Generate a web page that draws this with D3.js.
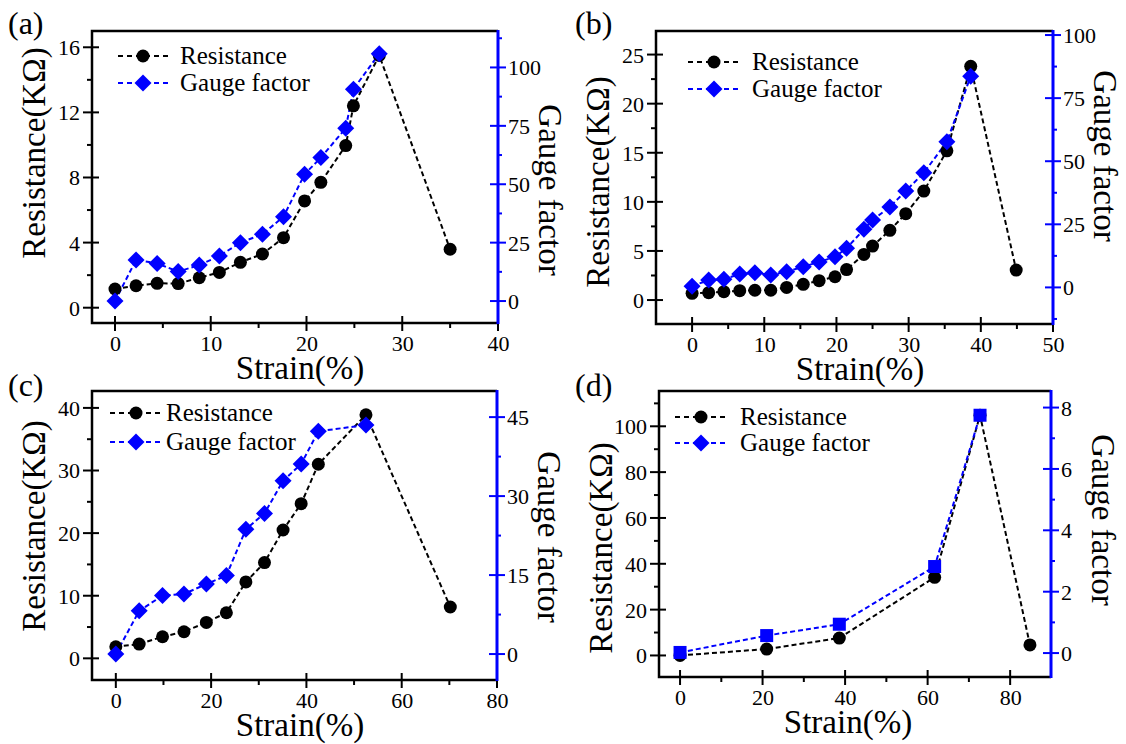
<!DOCTYPE html>
<html>
<head>
<meta charset="utf-8">
<script src="https://cdn.jsdelivr.net/npm/d3@7"></script>
<style>
  html, body { margin: 0; padding: 0; background: #fff; }
  svg { display: block; }
  svg text { font-family: "Liberation Serif", "Times New Roman", serif; fill: #000; }
</style>
</head>
<body>
<svg id="chart" width="1126" height="744"></svg>
<script>
// ---------- DATA ----------
// Panel (a)
const aStrain = [0, 2.2, 4.4, 6.6, 8.8, 10.9, 13.1, 15.4, 17.6, 19.8, 21.5, 24.1, 24.9, 27.6, 35];
const aRes    = [1.15, 1.35, 1.5, 1.48, 1.84, 2.17, 2.79, 3.3, 4.3, 6.56, 7.7, 9.96, 12.4, 15.5, 3.59];
const aGF     = [0, 17.6, 16.1, 12.6, 15.4, 19.3, 25, 28.6, 36.1, 54.3, 61.4, 74, 90.7, 105.9];
// Panel (b)
const bStrain = [0, 2.3, 4.4, 6.6, 8.7, 10.9, 13.1, 15.4, 17.6, 19.8, 21.4, 23.8, 25, 27.4, 29.6, 32.1, 35.3, 38.6, 44.9];
const bRes    = [0.68, 0.75, 0.85, 0.95, 1.0, 1.0, 1.29, 1.6, 1.97, 2.37, 3.1, 4.65, 5.5, 7.1, 8.8, 11.1, 15.2, 23.8, 3.05];
const bGF     = [0.5, 2.9, 3.2, 5.3, 5.8, 4.9, 6.2, 8.2, 10.1, 12.1, 15.5, 23.0, 26.7, 31.9, 38.2, 45.4, 57.7, 83.7];
// Panel (c)
const cStrain = [0, 4.9, 9.8, 14.3, 19.0, 23.2, 27.3, 31.2, 35.1, 38.9, 42.5, 52.5, 70.2];
const cRes    = [1.85, 2.28, 3.45, 4.25, 5.74, 7.28, 12.2, 15.3, 20.5, 24.7, 31.0, 38.9, 8.2];
const cGF     = [0, 8.2, 11.1, 11.4, 13.3, 14.9, 23.7, 26.7, 32.9, 36.1, 42.3, 43.5];
// Panel (d)
const dStrain = [0, 21, 38.6, 61.7, 72.7, 84.8];
const dRes    = [0, 2.8, 7.6, 34.1, 104.8, 4.6];
const dGF     = [0.02, 0.57, 0.94, 2.82, 7.75];

// tick labels
const aXTicks = [0, 10, 20, 30, 40], aLTicks = [0, 4, 8, 12, 16], aRTicks = [0, 25, 50, 75, 100];
const bXTicks = [0, 10, 20, 30, 40, 50], bLTicks = [0, 5, 10, 15, 20, 25], bRTicks = [0, 25, 50, 75, 100];
const cXTicks = [0, 20, 40, 60, 80], cLTicks = [0, 10, 20, 30, 40], cRTicks = [0, 15, 30, 45];
const dXTicks = [0, 20, 40, 60, 80], dLTicks = [0, 20, 40, 60, 80, 100], dRTicks = [0, 2, 4, 6, 8];

const seriesNames = ["Resistance", "Gauge factor"];
const xTitle = "Strain(%)", lTitle = "Resistance(KΩ)", rTitle = "Gauge factor";

// ---------- LAYOUT ----------
const panels = [
  { label: "(a)", lx: 8, ly: 34, box: [92, 498, 31, 323],
    xd: [-2.4, 40], ld: [-0.94, 17.0], rd: [-9.4, 115.6],
    xt: aXTicks, xm: 5, lt: aLTicks, lm: 2, rt: aRTicks, rm: 12.5,
    strain: aStrain, res: aRes, gf: aGF, gfShape: "diamond",
    leg: { x1: 118, x2: 168, tx: 180, y1: 56, y2: 83 },
    ltc: 153, rtc: 190, xtc: 300 },
  { label: "(b)", lx: 575, ly: 34, box: [656, 1053, 31, 324],
    xd: [-5, 50], ld: [-2.44, 27.4], rd: [-14.5, 101.6],
    xt: bXTicks, xm: 5, lt: bLTicks, lm: 2.5, rt: bRTicks, rm: 12.5,
    strain: bStrain, res: bRes, gf: bGF, gfShape: "diamond",
    leg: { x1: 688, x2: 740, tx: 752, y1: 62, y2: 89 },
    ltc: 182, rtc: 156, xtc: 860 },
  { label: "(c)", lx: 8, ly: 396, box: [92, 497, 391, 680],
    xd: [-5, 80], ld: [-3.46, 42.7], rd: [-4.93, 49.96],
    xt: cXTicks, xm: 10, lt: cLTicks, lm: 5, rt: cRTicks, rm: 7.5,
    strain: cStrain, res: cRes, gf: cGF, gfShape: "diamond",
    leg: { x1: 110, x2: 162, tx: 166, y1: 413, y2: 442 },
    ltc: 526, rtc: 537, xtc: 300 },
  { label: "(d)", lx: 575, ly: 396, box: [659, 1051, 391, 677],
    xd: [-5.1, 89.9], ld: [-9.4, 115.4], rd: [-0.78, 8.54],
    xt: dXTicks, xm: 10, lt: dLTicks, lm: 10, rt: dRTicks, rm: 1,
    strain: dStrain, res: dRes, gf: dGF, gfShape: "square",
    leg: { x1: 675, x2: 727, tx: 740, y1: 417, y2: 443 },
    ltc: 548, rtc: 520, xtc: 848 }
];

const svg = d3.select("#chart");
const BLUE = "#0000ff";
const SERIF = "'Liberation Serif', 'Times New Roman', serif";

function minorTicks(domain, step, majors) {
  const out = [];
  const start = Math.ceil(domain[0] / step - 1e-9) * step;
  for (let v = start; v <= domain[1] + 1e-9; v += step) {
    if (!majors.some(m => Math.abs(m - v) < 1e-6)) out.push(+v.toFixed(4));
  }
  return out;
}

function drawMarker(g, shape, cx, cy, color) {
  if (shape === "circle") {
    g.append("circle").attr("cx", cx).attr("cy", cy).attr("r", 6.5).attr("fill", color);
  } else if (shape === "diamond") {
    const s = 8.5;
    g.append("path").attr("d", `M${cx},${cy - s}L${cx + s},${cy}L${cx},${cy + s}L${cx - s},${cy}Z`).attr("fill", color);
  } else {
    const s = 6.5;
    g.append("rect").attr("x", cx - s).attr("y", cy - s).attr("width", 2 * s).attr("height", 2 * s).attr("fill", color);
  }
}

function styleTicks(sel) {
  sel.attr("font-family", SERIF).attr("font-size", 22);
  sel.select(".domain").remove();
  sel.selectAll("text").style("font-family", SERIF).style("font-size", "22px").style("fill", "#000");
}

panels.forEach(p => {
  const [L, R, T, B] = p.box;
  const x = d3.scaleLinear().domain(p.xd).range([L, R]);
  const yl = d3.scaleLinear().domain(p.ld).range([B, T]);
  const yr = d3.scaleLinear().domain(p.rd).range([B, T]);
  const g = svg.append("g");

  // frame
  g.append("path").attr("d", `M${R},${T}L${L},${T}L${L},${B}L${R},${B}`)
    .attr("fill", "none").attr("stroke", "#000").attr("stroke-width", 2.5);

  // bottom axis
  const gx = g.append("g").attr("transform", `translate(0,${B})`)
    .call(d3.axisBottom(x).tickValues(p.xt).tickSize(0).tickFormat(d3.format("d")));
  styleTicks(gx);
  gx.selectAll("text").attr("dy", 0).attr("y", 28);
  p.xt.forEach(v => g.append("line").attr("x1", x(v)).attr("x2", x(v)).attr("y1", B - 7).attr("y2", B + 8).attr("stroke", "#000").attr("stroke-width", 2));
  minorTicks(p.xd, p.xm, p.xt).forEach(v => {
    if (Math.abs(x(v) - L) > 2 && Math.abs(x(v) - R) > 2)
      g.append("line").attr("x1", x(v)).attr("x2", x(v)).attr("y1", B).attr("y2", B + 5).attr("stroke", "#000").attr("stroke-width", 2);
  });

  // left axis
  const gl = g.append("g").attr("transform", `translate(${L},0)`)
    .call(d3.axisLeft(yl).tickValues(p.lt).tickSize(0).tickFormat(d3.format("d")));
  styleTicks(gl);
  gl.selectAll("text").attr("x", -12).attr("dy", "0.34em");
  p.lt.forEach(v => g.append("line").attr("x1", L - 9).attr("x2", L + 7).attr("y1", yl(v)).attr("y2", yl(v)).attr("stroke", "#000").attr("stroke-width", 2));
  minorTicks(p.ld, p.lm, p.lt).forEach(v => {
    g.append("line").attr("x1", L - 5).attr("x2", L).attr("y1", yl(v)).attr("y2", yl(v)).attr("stroke", "#000").attr("stroke-width", 2);
  });

  // right axis (blue)
  const gr = g.append("g").attr("transform", `translate(${R},0)`)
    .call(d3.axisRight(yr).tickValues(p.rt).tickSize(0).tickFormat(d3.format("d")));
  styleTicks(gr);
  gr.selectAll("text").attr("x", 10).attr("dy", "0.34em");
  g.append("line").attr("x1", R).attr("x2", R).attr("y1", T - 1).attr("y2", B + 1).attr("stroke", BLUE).attr("stroke-width", 3);
  p.rt.forEach(v => g.append("line").attr("x1", R - 8).attr("x2", R + 8).attr("y1", yr(v)).attr("y2", yr(v)).attr("stroke", BLUE).attr("stroke-width", 2));
  minorTicks(p.rd, p.rm, p.rt).forEach(v => {
    g.append("line").attr("x1", R).attr("x2", R + 4).attr("y1", yr(v)).attr("y2", yr(v)).attr("stroke", BLUE).attr("stroke-width", 2);
  });

  // titles
  g.append("text").attr("x", p.xtc).attr("y", B + 56).attr("text-anchor", "middle")
    .attr("font-size", 33).text(xTitle);
  g.append("text").attr("transform", `translate(${L - 47},${p.ltc}) rotate(-90)`).attr("text-anchor", "middle")
    .attr("font-size", 33).text(lTitle);
  g.append("text").attr("transform", `translate(${R + 41},${p.rtc}) rotate(90)`).attr("text-anchor", "middle")
    .attr("font-size", 33).text(rTitle);
  g.append("text").attr("x", p.lx).attr("y", p.ly).attr("font-size", 32).text(p.label);

  // lines
  const resPts = p.strain.map((s, i) => [s, p.res[i]]);
  const gfPts = p.gf.map((v, i) => [p.strain[i], v]);
  g.append("path").attr("d", d3.line().x(d => x(d[0])).y(d => yl(d[1]))(resPts))
    .attr("fill", "none").attr("stroke", "#000").attr("stroke-width", 2).attr("stroke-dasharray", "5,3");
  g.append("path").attr("d", d3.line().x(d => x(d[0])).y(d => yr(d[1]))(gfPts))
    .attr("fill", "none").attr("stroke", BLUE).attr("stroke-width", 2).attr("stroke-dasharray", "5,3");

  // markers
  resPts.forEach(d => drawMarker(g, "circle", x(d[0]), yl(d[1]), "#000"));
  gfPts.forEach(d => drawMarker(g, p.gfShape, x(d[0]), yr(d[1]), BLUE));

  // legend
  const lg = p.leg;
  [[lg.y1, "#000", "circle", seriesNames[0]], [lg.y2, BLUE, "diamond", seriesNames[1]]].forEach(([yy, col, shp, name]) => {
    g.append("line").attr("x1", lg.x1).attr("x2", lg.x2).attr("y1", yy).attr("y2", yy)
      .attr("stroke", col).attr("stroke-width", 2).attr("stroke-dasharray", "5,4");
    drawMarker(g, shp, (lg.x1 + lg.x2) / 2, yy, col);
    g.append("text").attr("x", lg.tx).attr("y", yy + 8).attr("font-size", 25).text(name);
  });
});
</script>
</body>
</html>
